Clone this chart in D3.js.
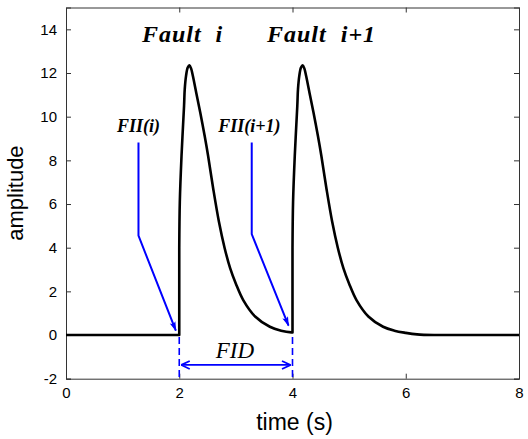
<!DOCTYPE html>
<html>
<head>
<meta charset="utf-8">
<script src="https://cdn.jsdelivr.net/npm/d3@7/dist/d3.min.js"></script>
<style>
  html, body { margin: 0; padding: 0; background: #fff; }
  svg { display: block; }
  .tick text { font-family: "Liberation Sans", Arial, sans-serif; font-size: 15px; fill: #000; }
</style>
</head>
<body>
<svg id="chart" width="528" height="439"></svg>
<script>
// Signal amplitude over time: two fault pulses
const time = [0, 2, 2, 2.01, 2.04, 2.085, 2.097, 2.12, 2.15, 2.18, 2.21, 2.24, 2.30, 2.37, 2.45, 2.51, 2.60, 2.70, 2.80, 2.90, 3.0, 3.13, 3.34, 3.6, 3.8, 3.98, 4.0,
              4.0, 4.01, 4.04, 4.085, 4.097, 4.12, 4.15, 4.18, 4.21, 4.24, 4.30, 4.37, 4.45, 4.51, 4.60, 4.70, 4.80, 4.90, 5.0, 5.13, 5.34, 5.6, 5.8, 6.0, 6.2, 6.5, 8];
const amplitude = [0, 0, 4.0, 6.1, 8.2, 10.5, 11.26, 11.87, 12.25, 12.35, 12.2, 11.87, 11.1, 10.2, 9.1, 8.2, 6.7, 5.2, 4.0, 3.05, 2.35, 1.6, 0.85, 0.38, 0.2, 0.12, 0.12,
                   4.0, 6.1, 8.2, 10.5, 11.26, 11.87, 12.25, 12.35, 12.2, 11.87, 11.1, 10.2, 9.1, 8.2, 6.7, 5.2, 4.0, 3.05, 2.35, 1.6, 0.85, 0.38, 0.2, 0.1, 0.03, 0, 0];

const xTicks = [0, 2, 4, 6, 8];
const yTicks = [-2, 0, 2, 4, 6, 8, 10, 12, 14];

// Fault titles and fault-inception indicators
const faultLabels = ["Fault  i", "Fault  i+1"];
const faultLabelX = [1.34, 3.55];
const faultLabelY = [13.44, 13.44];

const fiiLabels = ["FII(i)", "FII(i+1)"];
const fiiLabelX = [0.9, 2.69];
const fiiLabelY = [9.28, 9.28];
// pointer polylines: top of stem, knee, arrow tip
const fiiStemX = [1.28, 3.28];
const fiiStemTop = [8.82, 8.82];
const fiiKnee = [4.55, 4.62];
const fiiTipX = [1.94, 3.93];
const fiiTipY = [0.2, 0.43];

// Fault interval duration between the two inceptions
const fidStart = 2, fidEnd = 4, fidLevel = -1.37;
const fidLabel = "FID";

const svg = d3.select("#chart");
const margin = { left: 66, right: 9, top: 7.5, bottom: 60.3 };
const W = 528, H = 439;

const x = d3.scaleLinear().domain([0, 8]).range([margin.left, W - margin.right]);
const y = d3.scaleLinear().domain([-2, 15]).range([H - margin.bottom, margin.top]);

const defs = svg.append("defs");
defs.append("marker")
  .attr("id", "tipFilled").attr("viewBox", "0 0 10 10")
  .attr("refX", 9).attr("refY", 5)
  .attr("markerWidth", 10).attr("markerHeight", 10)
  .attr("markerUnits", "userSpaceOnUse")
  .attr("orient", "auto")
  .append("path").attr("d", "M0,2 L10,5 L0,8 L2,5 Z").attr("fill", "#0000ff");
defs.append("marker")
  .attr("id", "tipOpen").attr("viewBox", "0 0 10 10")
  .attr("refX", 9.5).attr("refY", 5)
  .attr("markerWidth", 10).attr("markerHeight", 10)
  .attr("markerUnits", "userSpaceOnUse")
  .attr("orient", "auto-start-reverse")
  .append("path").attr("d", "M1,1 L9.5,5 L1,9").attr("fill", "none")
  .attr("stroke", "#0000ff").attr("stroke-width", 1.8);

// plain hyphen for negatives
const fmt = d => String(d);

// axes (ticks drawn inward on all four sides)
const tickLen = 5;
svg.append("g").attr("transform", `translate(0,${y(-2)})`)
  .call(d3.axisBottom(x).tickValues(xTicks).tickSize(-tickLen).tickPadding(9).tickFormat(fmt));
svg.append("g").attr("transform", `translate(0,${y(15)})`)
  .call(d3.axisTop(x).tickValues(xTicks).tickSize(-tickLen).tickFormat(""));
svg.append("g").attr("transform", `translate(${x(0)},0)`)
  .call(d3.axisLeft(y).tickValues(yTicks).tickSize(-tickLen).tickPadding(9).tickFormat(fmt));
svg.append("g").attr("transform", `translate(${x(8)},0)`)
  .call(d3.axisRight(y).tickValues(yTicks).tickSize(-tickLen).tickFormat(""));
svg.selectAll(".domain").attr("stroke", "#333").attr("stroke-width", 1);
svg.selectAll(".tick line").attr("stroke", "#333");

// axis titles
svg.append("text")
  .attr("x", (x(0) + x(8)) / 2 + 2).attr("y", 430)
  .attr("text-anchor", "middle")
  .style("font-family", "'Liberation Sans', Arial, sans-serif").style("font-size", "23px")
  .text("time (s)");
svg.append("text")
  .attr("transform", `translate(23,${(y(-2) + y(15)) / 2}) rotate(-90)`)
  .attr("text-anchor", "middle")
  .style("font-family", "'Liberation Sans', Arial, sans-serif").style("font-size", "22px")
  .text("amplitude");

// signal trace: straight flat/step pieces, smooth pulse pieces
const pts = time.map((t, i) => [t, amplitude[i]]);
const n = pts.length;
const steps = d3.range(1, n).filter(i => time[i] === time[i - 1]);
const straight = d3.line().x(d => x(d[0])).y(d => y(d[1]));
const smooth = d3.line().x(d => x(d[0])).y(d => y(d[1])).curve(d3.curveCatmullRom.alpha(0.5));
const pieces = [
  [0, steps[0], straight],               // baseline and first step
  [steps[0], steps[1] - 1, smooth],      // first pulse
  [steps[1] - 1, steps[1], straight],    // second step
  [steps[1], n - 2, smooth],             // second pulse
  [n - 2, n - 1, straight]               // settled tail
];
const pathD = pieces.map(([a, b, gen], k) => {
  const s = gen(pts.slice(a, b + 1));
  return k === 0 ? s : "L" + s.slice(1);
}).join("");
svg.append("path")
  .attr("d", pathD)
  .attr("fill", "none").attr("stroke", "#000").attr("stroke-width", 2.6)
  .attr("stroke-linejoin", "round");

// fault titles
faultLabels.forEach((s, i) => {
  svg.append("text")
    .attr("x", x(faultLabelX[i])).attr("y", y(faultLabelY[i]))
    .style("font-family", "'Liberation Serif', 'Times New Roman', serif")
    .style("font-size", "24px").style("font-weight", "bold").style("font-style", "italic")
    .style("letter-spacing", "1px").style("white-space", "pre")
    .text(s);
});

// FII labels and pointers
fiiLabels.forEach((s, i) => {
  svg.append("text")
    .attr("x", x(fiiLabelX[i])).attr("y", y(fiiLabelY[i]))
    .style("font-family", "'Liberation Serif', 'Times New Roman', serif")
    .style("font-size", "18px").style("font-weight", "bold").style("font-style", "italic")
    .text(s);
  svg.append("path")
    .attr("d", d3.line()([
      [x(fiiStemX[i]), y(fiiStemTop[i])],
      [x(fiiStemX[i]), y(fiiKnee[i])],
      [x(fiiTipX[i]), y(fiiTipY[i])]
    ]))
    .attr("fill", "none").attr("stroke", "#0000ff").attr("stroke-width", 2)
    .attr("marker-end", "url(#tipFilled)");
});

// FID dashed markers and double arrow
[fidStart, fidEnd].forEach(t => {
  svg.append("line")
    .attr("x1", x(t)).attr("x2", x(t)).attr("y1", y(0) + 2).attr("y2", y(-2))
    .attr("stroke", "#0000ff").attr("stroke-width", 1.6).attr("stroke-dasharray", "7,4");
});
svg.append("line")
  .attr("x1", x(fidStart) + 2).attr("x2", x(fidEnd) - 2)
  .attr("y1", y(fidLevel)).attr("y2", y(fidLevel))
  .attr("stroke", "#0000ff").attr("stroke-width", 1.8)
  .attr("marker-start", "url(#tipOpen)").attr("marker-end", "url(#tipOpen)");
svg.append("text")
  .attr("x", x((fidStart + fidEnd) / 2) - 1).attr("y", y(-1.03))
  .attr("text-anchor", "middle")
  .style("font-family", "'Liberation Serif', 'Times New Roman', serif")
  .style("font-size", "23px").style("font-style", "italic")
  .text(fidLabel);
</script>
</body>
</html>
